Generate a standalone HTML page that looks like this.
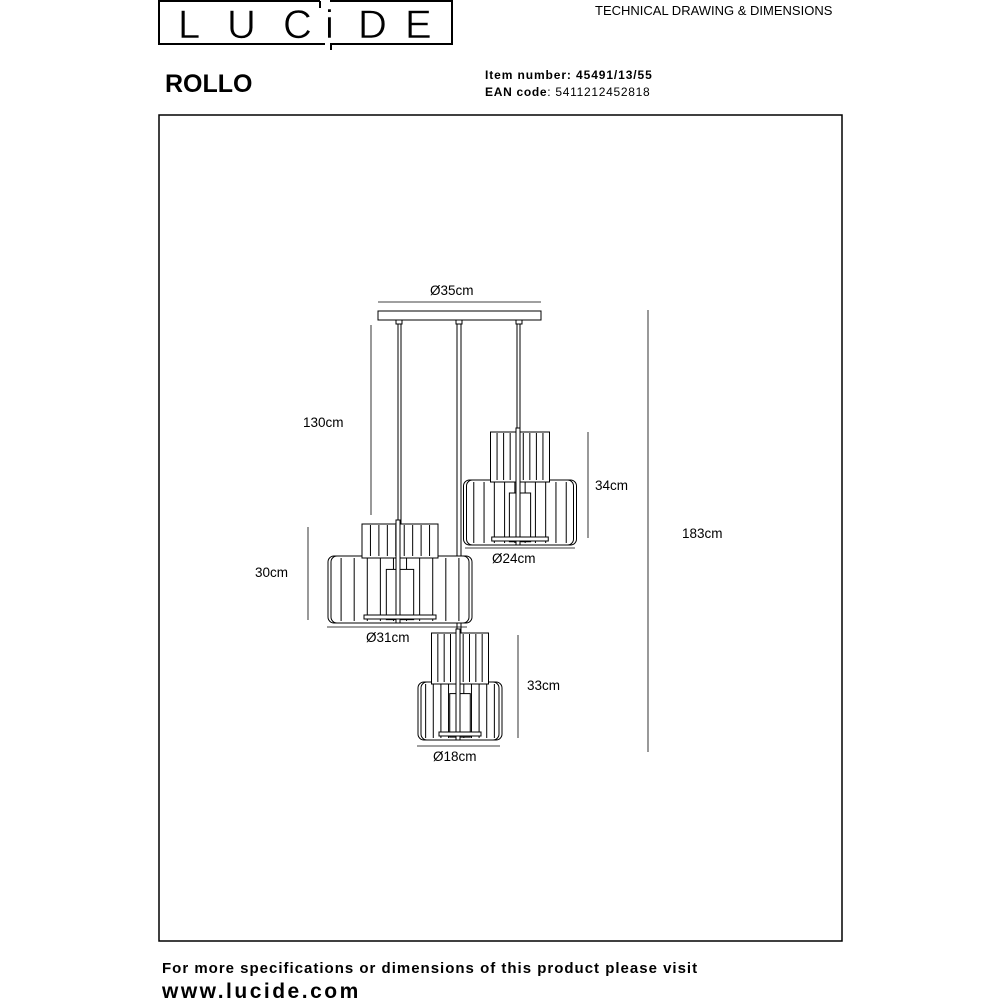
<!DOCTYPE html>
<html><head><meta charset="utf-8"><style>
body{margin:0;background:#fff;width:1000px;height:1000px;overflow:hidden;font-family:"Liberation Sans",sans-serif}
svg{position:absolute;left:0;top:0}
</style></head><body>
<svg width="1000" height="1000" viewBox="0 0 1000 1000" font-family="Liberation Sans, sans-serif">
<g stroke="#000" stroke-width="2" fill="none">
<path d="M320 1 H159 V44 H325"/>
<path d="M330 1 H452 V44 H331 V50"/>
<path d="M320 1 V8"/>
</g>
<g font-size="40" fill="#000" font-weight="100" stroke="#fff" stroke-width="0.6">
<text x="178" y="38">L</text><text x="227" y="38">U</text><text x="283" y="38">C</text>
<text x="325" y="38">i</text><text x="358" y="38">D</text><text x="405" y="38">E</text>
</g>
<text x="595" y="15" font-size="13">TECHNICAL DRAWING &amp; DIMENSIONS</text>
<text x="165" y="92" font-size="25" font-weight="bold">ROLLO</text>
<text x="485" y="79" font-size="12" font-weight="bold" letter-spacing="0.9">Item number: 45491/13/55</text>
<text x="485" y="96" font-size="12" letter-spacing="0.7"><tspan font-weight="bold">EAN code</tspan>: 5411212452818</text>
<rect x="159" y="115" width="683" height="826" fill="none" stroke="#000" stroke-width="1.5"/>
<text x="162" y="973" font-size="15" font-weight="bold" letter-spacing="1">For more specifications or dimensions of this product please visit</text>
<text x="162" y="998" font-size="21" font-weight="bold" letter-spacing="2.5">www.lucide.com</text>

<g stroke="#000" fill="none" stroke-width="1">
<rect x="378" y="311" width="163" height="9"/>
<rect x="396" y="320" width="6" height="4"/><rect x="456" y="320" width="6" height="4"/><rect x="516" y="320" width="6" height="4"/>
<path d="M398 324 V524 M401 324 V524"/>
<path d="M457 324 V740 M461 324 V740"/>
<path d="M517 324 V432 M520 324 V432"/>
</g>
<g id="shades" stroke="#000" fill="#fff" stroke-width="1"></g>

<g stroke="#000" stroke-width="0.8" fill="none">
<path d="M378 302 H541"/><path d="M371 325 V515"/><path d="M308 527 V620"/>
<path d="M588 432 V538"/><path d="M518 635 V738"/><path d="M648 310 V752"/>
<path d="M465 548 H575"/><path d="M327 627 H467"/><path d="M417 746 H500"/>
</g>
<g font-size="13.5" fill="#000">
<text x="430" y="295">Ø35cm</text>
<text x="303" y="427">130cm</text>
<text x="255" y="577">30cm</text>
<text x="595" y="490">34cm</text>
<text x="527" y="690">33cm</text>
<text x="682" y="538">183cm</text>
<text x="492" y="563">Ø24cm</text>
<text x="366" y="642">Ø31cm</text>
<text x="433" y="761">Ø18cm</text>
</g>
</svg>
<script>
var g=document.getElementById('shades'),NS='http://www.w3.org/2000/svg';
function el(t,a){var e=document.createElementNS(NS,t);for(var k in a)e.setAttribute(k,a[k]);g.appendChild(e);return e;}
function shade(cx,tw,ty,th,bw,by,bh){
 el('rect',{x:cx-bw/2,y:by,width:bw,height:bh,rx:6});
 for(var i=1;i<11;i++){var x=cx-bw/2+bw*i/11;el('line',{x1:x,y1:by+2,x2:x,y2:by+bh-2});}
 el('rect',{x:cx-bw/2+3,y:by,width:bw-6,height:bh,rx:6,fill:'none'});
 el('rect',{x:cx-tw/2,y:ty,width:tw,height:th+2});
 for(var j=1;j<9;j++){var x2=cx-tw/2+tw*j/9;el('line',{x1:x2,y1:ty+1,x2:x2,y2:ty+th});}
 el('rect',{x:cx-tw*0.18,y:by+bh*0.2,width:tw*0.36,height:bh*0.75});
 el('rect',{x:cx-4,y:ty-4,width:4,height:th+bh+4,fill:'#fff'});
 el('rect',{x:cx-bw*0.25,y:by+bh-8,width:bw*0.5,height:4});
}
shade(400,76,524,32,144,556,67);
shade(520,59,432,48,113,480,65);
shade(460,57,633,49,84,682,58);
</script>
</body></html>
